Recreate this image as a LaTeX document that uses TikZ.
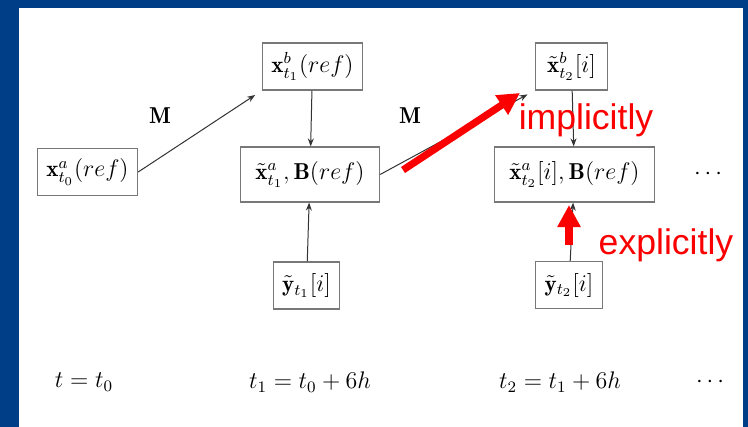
\documentclass[tikz,border=0pt]{standalone}
\usepackage{amsmath,amssymb}
\usepackage{fontspec}
\newfontfamily\annofont{Liberation Sans}
\usepackage{tikz}
\usetikzlibrary{arrows.meta,positioning}
\definecolor{slideblue}{RGB}{0,63,135}
\definecolor{boxgrey}{RGB}{120,120,120}
\definecolor{hotred}{RGB}{250,0,0}

\begin{document}
\begin{tikzpicture}[x=0.5pt,y=-0.5pt, every node/.style={font=\fontsize{11.5}{14}\selectfont},
  box/.style={draw=boxgrey,line width=0.6pt,fill=white,inner xsep=4.5pt,inner ysep=2pt,
              minimum height=23.5pt},
  wide/.style={box,inner xsep=7.5pt,minimum height=27.5pt},
  ar/.style={-{Stealth[length=4pt,width=3pt]},black!80,line width=0.5pt},
  hot/.style={-{Triangle[length=11pt,width=11pt]},hotred,line width=3.6pt},
  anno/.style={text=hotred,font=\annofont\fontsize{17.8}{20}\selectfont}]

% frame of the slide
\fill[slideblue] (0,0) rectangle (748,427);
\fill[white] (19,8) rectangle (743,427);

\node[box]  (A0) at (87.5,172)  {$\mathbf{x}^a_{t_0}(ref)$};
\node[box]  (B1) at (312.5,66.5) {$\mathbf{x}^b_{t_1}(ref)$};
\node[wide] (A1) at (310,174.5) {$\tilde{\mathbf{x}}^a_{t_1},\mathbf{B}(ref)$};
\node[box]  (Y1) at (306.5,285.5) {$\tilde{\mathbf{y}}_{t_1}[i]$};
\node[box,inner xsep=6pt] (B2) at (571.5,66.5) {$\tilde{\mathbf{x}}^b_{t_2}[i]$};
\node[wide] (A2) at (574.5,174.5) {$\tilde{\mathbf{x}}^a_{t_2}[i],\mathbf{B}(ref)$};
\node[box]  (Y2) at (569,285) {$\tilde{\mathbf{y}}_{t_2}[i]$};
\node (dm) at (710,174) {$\cdots$};

\node (M1) at (160,116) {$\mathbf{M}$};
\node (M2) at (410,116) {$\mathbf{M}$};

\node (T0) at (84,382)  {$t=t_0$};
\node (T1) at (310,382) {$t_1=t_0+6h$};
\node (T2) at (560,382) {$t_2=t_1+6h$};
\node (db) at (712,382) {$\cdots$};

\draw[ar,shorten >=4pt] (A0.east) -- (B1.south west);
\draw[ar,shorten >=4pt] (A1.east) -- (B2.south west);
\foreach \a/\b in {B1/A1,Y1/A1,B2/A2,Y2/A2} \draw[ar] (\a) -- (\b);

% the two red remarks
\coordinate (i0) at (403,170);
\coordinate (i1) at (520,93);
\coordinate (e0) at (569,245);
\coordinate (e1) at (569,205);
\draw[hot] (i0) -- (i1);
\draw[hot] (e0) -- (e1);
\node[anno] (imp) at (586,120) {implicitly};
\node[anno] (exp) at (666,245) {explicitly};
\end{tikzpicture}
\end{document}
